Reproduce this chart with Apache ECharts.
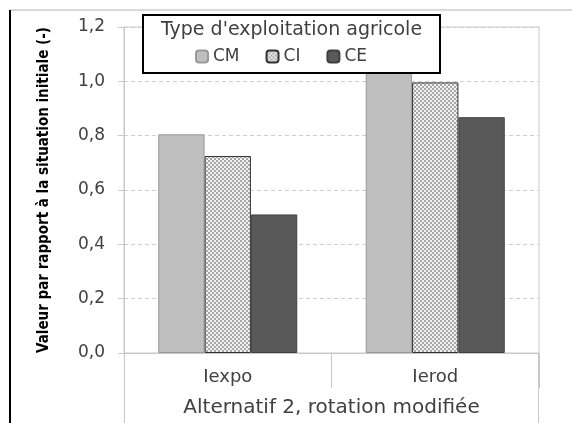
<!DOCTYPE html>
<html><head><meta charset="utf-8">
<script src="https://cdn.jsdelivr.net/npm/echarts@6/dist/echarts.min.js"></script>
<style>html,body{margin:0;padding:0;background:#fff}#c{width:572px;height:423px}</style>
</head><body><div id="c"></div><script>
const categories = ['Iexpo', 'Ierod'];
const seriesNames = ['CM', 'CI', 'CE'];
const cmValues = [0.805, 1.07];
const ciValues = [0.725, 0.996];
const ceValues = [0.51, 0.868];
const yTickValues = [0, 0.2, 0.4, 0.6, 0.8, 1.0, 1.2];
const legendTitle = "Type d'exploitation agricole";
const xAxisTitle = 'Alternatif 2, rotation modifiée';
const yAxisTitle = 'Valeur par rapport à la situation initiale (-)';

function makePattern() {
  const cv = document.createElement('canvas');
  cv.width = 4; cv.height = 4;
  const ctx = cv.getContext('2d');
  ctx.fillStyle = '#f2f2f2'; ctx.fillRect(0, 0, 4, 4);
  ctx.fillStyle = '#a8a8a8';
  ctx.fillRect(0, 0, 2, 2); ctx.fillRect(2, 2, 2, 2);
  return cv;
}
const pattern = { image: makePattern(), repeat: 'repeat' };

const font = 'DejaVu Sans';
const chart = echarts.init(document.getElementById('c'), null, { renderer: 'canvas' });
const gl = 124, gr = 539, gt = 27, gb = 353;
chart.setOption({
  animation: false,
  grid: { left: gl, right: 572 - gr, top: gt, bottom: 423 - gb, show: true, borderColor: '#c8c8c8', borderWidth: 1 },
  xAxis: {
    type: 'category', data: categories,
    axisLine: { lineStyle: { color: '#c8c8c8', width: 1 } },
    axisTick: { show: true, length: 35, lineStyle: { color: '#c8c8c8' } },
    axisLabel: { margin: 15, fontSize: 18, fontFamily: font, color: '#404040' },
    name: xAxisTitle, nameLocation: 'middle', nameGap: 45,
    nameTextStyle: { fontSize: 20, fontFamily: font, color: '#404040' }
  },
  yAxis: {
    type: 'value', min: 0, max: 1.2, interval: 0.2,
    axisLine: { show: true, lineStyle: { color: '#c8c8c8' } },
    axisTick: { show: true, length: 6, lineStyle: { color: '#c8c8c8' } },
    axisLabel: { margin: 19, fontSize: 17, fontFamily: font, color: '#404040',
      formatter: v => yTickValues.includes(Math.round(v * 10) / 10) ? v.toFixed(1).replace('.', ',') : '' },
    splitLine: { show: true, lineStyle: { color: '#d0d0d0', type: [4, 3] } },
    name: yAxisTitle, nameLocation: 'middle', nameGap: 72, nameRotate: 90,
    nameTextStyle: { fontSize: 15, fontFamily: 'DejaVu Sans Condensed', fontWeight: 'bold', color: '#000',
      padding: [0, 0, 0, 0] }
  },
  legend: {
    data: seriesNames, top: 48, left: 195, itemWidth: 12, itemHeight: 12, itemGap: 26, padding: 0, z: 20,
    textStyle: { fontSize: 17, fontFamily: font, color: '#404040' }
  },
  graphic: [
    { type: 'rect', z: 10, shape: { x: 143, y: 15, width: 297, height: 58 }, style: { fill: '#fff', stroke: '#000', lineWidth: 2 } },
    { type: 'text', z: 11, x: 291.5, y: 30, style: { text: legendTitle, fontSize: 19, fontFamily: font, fill: '#404040', align: 'center', verticalAlign: 'middle' } },
    { type: 'line', z: 1, shape: { x1: gl + 0.5, y1: gb, x2: gl + 0.5, y2: 423 }, style: { stroke: '#c8c8c8', lineWidth: 1 } },
    { type: 'line', z: 1, shape: { x1: gr - 0.5, y1: gb, x2: gr - 0.5, y2: 423 }, style: { stroke: '#c8c8c8', lineWidth: 1 } },
    { type: 'line', z: 1, shape: { x1: 10, y1: 10, x2: 572, y2: 10 }, style: { stroke: '#d9d9d9', lineWidth: 2 } },
    { type: 'line', z: 1, shape: { x1: 10, y1: 10, x2: 10, y2: 423 }, style: { stroke: '#000', lineWidth: 2 } }
  ],
  series: [
    { name: 'CM', type: 'bar', data: cmValues, barGap: '0%', barCategoryGap: '33%',
      itemStyle: { color: '#bfbfbf', borderColor: '#999', borderWidth: 1 } },
    { name: 'CI', type: 'bar', data: ciValues,
      itemStyle: { color: pattern, borderColor: '#333', borderWidth: 1 } },
    { name: 'CE', type: 'bar', data: ceValues,
      itemStyle: { color: '#595959', borderColor: '#404040', borderWidth: 1 } }
  ]
});
</script></body></html>
